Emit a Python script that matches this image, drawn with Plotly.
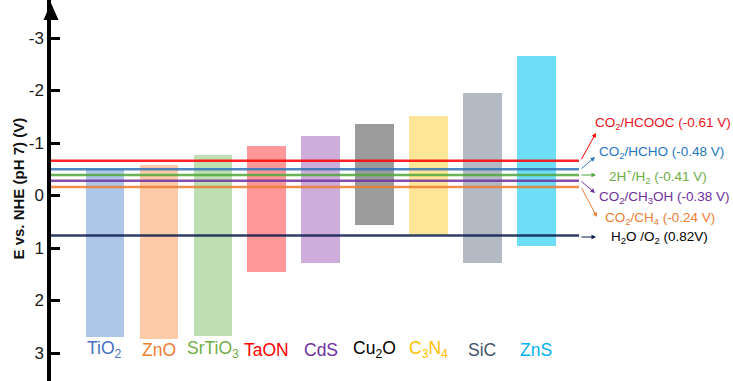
import plotly.graph_objects as go

# ---- data ----
materials = ["TiO<sub>2</sub>", "ZnO", "SrTiO<sub>3</sub>", "TaON", "CdS",
             "Cu<sub>2</sub>O", "C<sub>3</sub>N<sub>4</sub>", "SiC", "ZnS"]
cb = [-0.50, -0.58, -0.77, -0.94, -1.13, -1.37, -1.51, -1.95, -2.65]   # conduction band (top)
vb = [2.70, 2.74, 2.68, 1.46, 1.28, 0.56, 0.76, 1.28, 0.97]            # valence band (bottom)
bar_colors = ["#AEC6E8", "#FDCBA8", "#BDDFB2", "#FF9898", "#CFADDA",
              "#9B9B9B", "#FFE597", "#B4BAC4", "#6EDEF7"]
label_colors = ["#4472C4", "#ED7D31", "#70AD47", "#FF0000", "#7030A0",
                "#000000", "#FFC000", "#44546A", "#00B0F0"]

redox_labels = ["CO<sub>2</sub>/HCOOC (-0.61 V)", "CO<sub>2</sub>/HCHO (-0.48 V)",
                "2H<sup>+</sup>/H<sub>2</sub> (-0.41 V)", "CO<sub>2</sub>/CH<sub>3</sub>OH (-0.38 V)",
                "CO<sub>2</sub>/CH<sub>4</sub> (-0.24 V)", "H<sub>2</sub>O /O<sub>2</sub> (0.82V)"]
redox_levels = [-0.66, -0.50, -0.39, -0.28, -0.16, 0.76]
redox_line_colors = ["#FF0000", "#2E75B6", "#4FA83D", "#7030A0", "#ED7D31", "#0B1C4F"]
redox_text_colors = ["#E8141C", "#1F78C1", "#70AD47", "#7030A0", "#ED7D31", "#000000"]

ytick_vals = [-3, -2, -1, 0, 1, 2, 3]
ytick_text = ["-3", "-2", "-1", "0", "1", "2", "3"]

# ---- layout geometry (pixels) ----
W, H = 733, 381
ML, MR = 51, 154
PW = W - ML - MR

def px_x(p):
    return (p - ML) / PW

def px_y(p):
    return 1 - p / H

FONT = "Liberation Sans, Arial, sans-serif"
idx = list(range(len(materials)))

fig = go.Figure()
fig.add_trace(go.Bar(
    x=idx, base=cb, y=[v - c for v, c in zip(vb, cb)],
    width=0.714, marker=dict(color=bar_colors, line=dict(width=0)),
    hoverinfo="skip", showlegend=False))

shapes = []
for lvl, col in zip(redox_levels, redox_line_colors):
    shapes.append(dict(type="line", xref="paper", x0=0, x1=1, yref="y", y0=lvl, y1=lvl,
                       line=dict(color=col, width=2.5), opacity=0.85, layer="above"))
# arrowhead at top of y axis
shapes.append(dict(type="path", xref="paper", xsizemode="pixel", xanchor=0,
                   yref="paper", ysizemode="pixel", yanchor=1,
                   path="M -7.5,-20 L 7.5,-20 L 0,-3 Z",
                   fillcolor="black", line=dict(width=0), layer="above"))

annotations = []
# category labels
for i, (name, col) in enumerate(zip(materials, label_colors)):
    annotations.append(dict(x=i, y=2.94, xref="x", yref="y", text=name, showarrow=False,
                            font=dict(family=FONT, size=17.5, color=col)))

# arrows: (head px, head py, tail px, tail py)
arrows = [(596, 133, 581, 160), (595, 157, 581, 169), (596, 175, 581, 175),
          (595, 193, 581, 181), (597, 217, 581, 187), (596, 237, 581, 237)]
text_pos = [(593, 123), (597, 152), (607, 176), (597, 197), (603, 218), (609, 237)]
for (hx, hy, tx, ty), col in zip(arrows, redox_line_colors):
    annotations.append(dict(xref="paper", yref="paper", x=px_x(hx), y=px_y(hy),
                            ax=tx - hx, ay=ty - hy, text=" ", showarrow=True,
                            arrowhead=2, arrowsize=0.9, arrowwidth=1, arrowcolor=col,
                            font=dict(size=1), borderpad=0, standoff=0))
for (lx, ly), lab, col in zip(text_pos, redox_labels, redox_text_colors):
    annotations.append(dict(xref="paper", yref="paper", x=px_x(lx), y=px_y(ly),
                            xanchor="left", yanchor="middle", text=lab, showarrow=False,
                            font=dict(family=FONT, size=13.5, color=col)))

# y-axis title
annotations.append(dict(xref="paper", yref="paper", x=0, y=px_y(189), xshift=-44,
                        text="<b>E vs. NHE (pH 7) (V)</b>", textangle=-90, showarrow=False,
                        font=dict(family=FONT, size=15, color="#111111")))

fig.update_layout(
    width=W, height=H,
    margin=dict(l=ML, r=MR, t=0, b=0),
    paper_bgcolor="white", plot_bgcolor="white",
    shapes=shapes, annotations=annotations,
    xaxis=dict(range=[-1.0, 8.79], visible=False),
    yaxis=dict(range=[3.533, -3.724], tickvals=ytick_vals, ticktext=ytick_text,
               ticks="inside", ticklen=9, tickwidth=3, tickcolor="black",
               showline=True, linewidth=3.5, linecolor="black",
               showgrid=False, zeroline=False,
               tickfont=dict(family=FONT, size=17, color="#1a1a1a")),
    bargap=0,
)

fig.write_html("out.html", config={"displayModeBar": False},
               post_script="document.body.style.margin='0px';document.body.style.overflow='hidden';")
